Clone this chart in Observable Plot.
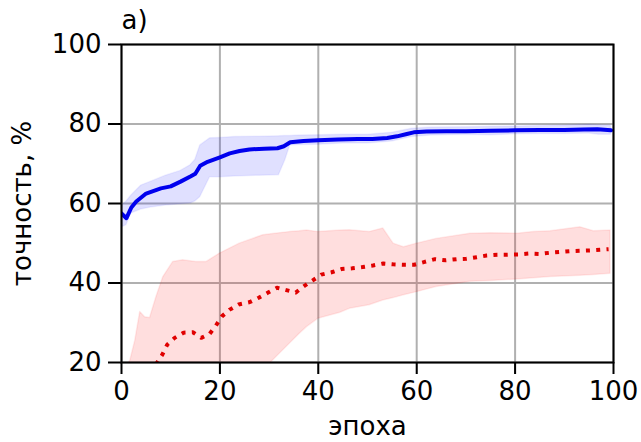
<!DOCTYPE html>
<html>
<head>
<meta charset="utf-8">
<script src="https://cdn.jsdelivr.net/npm/d3@7"></script>
<script src="https://cdn.jsdelivr.net/npm/@observablehq/plot@0.6"></script>
<style>
  html, body { margin: 0; padding: 0; background: #fff; }
  #chart svg { display: block; }
</style>
</head>
<body>
<div id="chart"></div>
<script>
// ---- data ----
const xTicks = [0, 20, 40, 60, 80, 100];
const yTicks = [20, 40, 60, 80, 100];
const xLabel = "эпоха";
const yLabel = "точность, %";
const panelLabel = "a)";

// blue (upper) series: mean line
const blueLineX = [0, 1, 2, 3, 5, 8, 10, 12, 14, 15, 16, 17.5, 20, 22, 24, 26, 29, 31.7, 33, 34.3, 37, 40, 44, 48, 51, 54, 56, 58, 59.4, 62, 66, 70, 75, 80, 85, 90, 94, 96.7, 99.5];
const blueLineY = [57.5, 56.3, 59, 60.5, 62.5, 63.8, 64.3, 65.5, 66.8, 67.5, 69.5, 70.5, 71.6, 72.6, 73.2, 73.6, 73.8, 73.9, 74.4, 75.4, 75.7, 75.9, 76.1, 76.2, 76.2, 76.5, 76.9, 77.5, 77.9, 78.1, 78.2, 78.2, 78.3, 78.4, 78.5, 78.5, 78.6, 78.7, 78.4];
// blue band
const blueBandX  = [0, 1, 2, 4, 6, 9, 12, 14, 15, 16, 18, 20, 23, 28, 32, 33.3, 34.3, 36, 40, 45, 50, 55, 59, 63, 70, 75, 80, 85, 90, 95, 97, 99.5];
const blueBandLo = [54, 54.5, 57.5, 58.5, 59, 59.5, 59.8, 60, 60.5, 61.6, 66.6, 66.6, 66.8, 67, 67.1, 70.9, 74.6, 74.7, 74.8, 75.1, 75.1, 75.6, 76.7, 77.1, 77.3, 77.2, 77.4, 77.5, 77.5, 77.6, 77.3, 77.3];
const blueBandHi = [59.5, 60.5, 62, 64.5, 65.5, 67, 68.2, 69.6, 71, 74.6, 76.4, 76.5, 76.7, 76.8, 76.9, 77, 77, 77.1, 77.2, 77.3, 77.3, 77.8, 78.8, 79.1, 79.2, 79.3, 79.4, 79.5, 79.6, 79.8, 79.7, 79.6];

// red (lower) series: mean line
const redLineX = [7, 8.3, 9.3, 10.8, 12.6, 14.5, 16.2, 17.9, 19.2, 20.4, 22, 23.8, 26.1, 27.9, 29.8, 31.6, 33.5, 35.4, 37.1, 38.8, 40.6, 42.7, 44.7, 46.9, 49, 51.1, 53.2, 55.2, 57.4, 59.5, 61.6, 63.7, 65.9, 68.1, 70.1, 72.2, 74.2, 76.4, 78.4, 80.6, 82.7, 84.8, 87, 89.1, 91.1, 93.3, 95.5, 97.7, 99];
const redLineY = [19.5, 22.0, 24.5, 26.2, 27.5, 27.6, 26.2, 27.2, 29.3, 31.6, 33.3, 34.6, 35.2, 36.3, 37.6, 38.8, 38.2, 37.6, 39.2, 40.6, 42.1, 42.7, 43.5, 43.7, 44.0, 44.4, 44.9, 44.7, 44.6, 44.6, 45.3, 46.0, 45.7, 46.0, 46.1, 46.5, 46.9, 47.1, 47.1, 47.2, 47.4, 47.3, 47.6, 47.8, 48.0, 48.1, 48.2, 48.4, 48.5];
// red band
const redBandX  = [0, 1.8, 2.8, 3.8, 4.8, 5.8, 7.1, 8.5, 10.5, 12.5, 15.2, 17.3, 20, 24, 28.8, 30.8, 34.2, 36.2, 37.7, 40, 44.5, 46.4, 50.4, 53.2, 55.3, 57.4, 60, 64, 70.9, 75, 80.4, 83.8, 87.2, 93.3, 96, 99.4];
const redBandLo = [5, 6, 7, 8, 8.5, 9, 9.5, 10, 10.5, 11, 11.5, 12, 13, 15, 18, 20.5, 24.7, 27.2, 28.9, 31, 32.5, 33.5, 34.4, 35.6, 36.2, 36.9, 37.7, 39, 40.3, 40.5, 40.9, 41.2, 41.5, 41.8, 42, 42.3];
const redBandHi = [17, 20.5, 25.5, 32.7, 31.4, 31.2, 36.5, 41.5, 45.3, 45.7, 45.3, 45.3, 47.4, 49.9, 52, 52.3, 52.8, 53, 53.2, 52.8, 53.2, 53.3, 52.8, 53.7, 49.9, 49, 49.9, 51.1, 52.4, 52.5, 52.4, 52.8, 53, 54, 53, 53.2];

// ---- tables built from the arrays ----
const blueLine = blueLineX.map((x, i) => ({x, y: blueLineY[i]}));
const blueBand = blueBandX.map((x, i) => ({x, lo: blueBandLo[i], hi: blueBandHi[i]}));
const redLine  = redLineX.map((x, i) => ({x, y: redLineY[i]}));
const redBand  = redBandX.map((x, i) => ({x, lo: redBandLo[i], hi: redBandHi[i]}));
const xMin = xTicks[0], yMin = yTicks[0];

const FS = 26;
const chart = Plot.plot({
  width: 641,
  height: 442,
  marginLeft: 121,
  marginRight: 28,
  marginTop: 44,
  marginBottom: 80,
  style: {fontFamily: "'DejaVu Sans', sans-serif", fontSize: FS + "px", color: "#000", background: "#fff"},
  x: {domain: [0, 100], ticks: xTicks, tickSize: 12, tickPadding: 7, label: null, tickFormat: d => String(d)},
  y: {domain: [20, 100], ticks: yTicks, tickSize: 13, tickPadding: 7, label: null, tickFormat: d => String(d)},
  marks: [
    Plot.gridX(xTicks, {stroke: "#b0b0b0", strokeOpacity: 1, strokeWidth: 2}),
    Plot.gridY(yTicks, {stroke: "#b0b0b0", strokeOpacity: 1, strokeWidth: 2}),
    Plot.areaY(redBand, {x: "x", y1: "lo", y2: "hi", fill: "red", fillOpacity: 0.13, stroke: "red", strokeOpacity: 0.08, strokeWidth: 1.5, clip: true}),
    Plot.areaY(blueBand, {x: "x", y1: "lo", y2: "hi", fill: "blue", fillOpacity: 0.12, stroke: "blue", strokeOpacity: 0.06, strokeWidth: 1.5, clip: true}),
    Plot.line(redLine, {x: "x", y: "y", stroke: "#e00000", strokeWidth: 4, strokeDasharray: "4,6.3", strokeLinecap: "butt", curve: "linear", clip: true}),
    Plot.line(blueLine, {x: "x", y: "y", stroke: "#0000ee", strokeWidth: 4, curve: "linear", clip: true}),
    Plot.frame({stroke: "#000", strokeWidth: 2}),
    // outward tick marks (matplotlib style)
    Plot.ruleY(yTicks, {x1: xMin, x2: xMin, insetLeft: -13, stroke: "#000", strokeWidth: 2}),
    Plot.ruleX(xTicks, {y1: yMin, y2: yMin, insetBottom: -12, stroke: "#000", strokeWidth: 2}),
    Plot.text([xLabel], {frameAnchor: "bottom", lineAnchor: "middle", textAnchor: "middle", dy: 64, fontSize: FS, fill: "#000"}),
    Plot.text([yLabel], {frameAnchor: "left", lineAnchor: "middle", textAnchor: "middle", dx: -99, rotate: -90, fontSize: FS, fill: "#000"}),
    Plot.text([panelLabel], {frameAnchor: "top-left", lineAnchor: "middle", textAnchor: "start", dx: 0, dy: -24, fontSize: FS, fill: "#000"})
  ]
});
document.getElementById("chart").appendChild(chart);
</script>
</body>
</html>
